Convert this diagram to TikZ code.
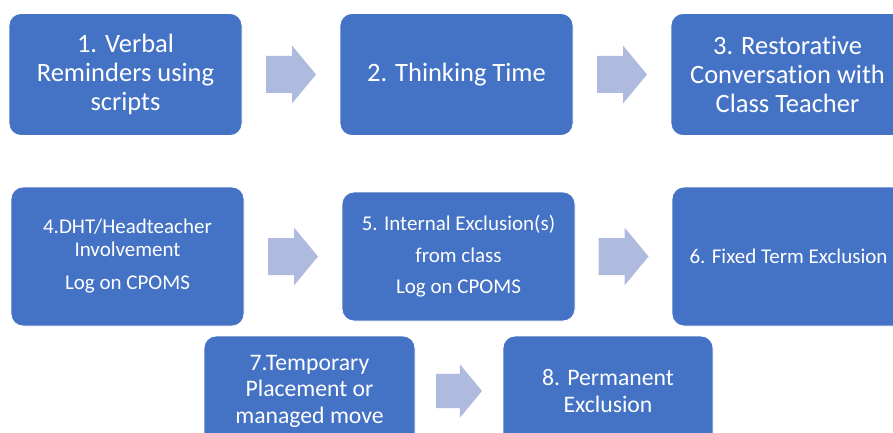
\documentclass[tikz,border=0pt]{standalone}
\usepackage{fontspec}
\setmainfont{Carlito}[RawFeature={-liga;-clig;-calt;-dlig}]
\usetikzlibrary{calc}
\definecolor{boxblue}{HTML}{4472C4}
\definecolor{arrowblue}{RGB}{175,187,222}
\tikzset{stage/.style={fill=boxblue, draw=white, line width=0.8pt, rounded corners=12pt,
  text=white, align=center, inner sep=0pt, minimum width=233pt}}
\tikzset{toprow/.style={stage, minimum height=122pt, font=\fontsize{26.5}{29}\selectfont}}
\tikzset{midrow/.style={stage, font=\fontsize{21}{23}\selectfont}}
\tikzset{lowrow/.style={stage, minimum width=211pt, minimum height=110pt, font=\fontsize{23.7}{26.5}\selectfont}}
\tikzset{blockarrow/.pic={\fill[arrowblue] (-25,-18.5) -- (1,-18.5) -- (1,-29) -- (25,0)
  -- (1,29) -- (1,18.5) -- (-25,18.5) -- cycle;}}

\begin{document}
\begin{tikzpicture}[x=1pt, y=-1pt]
\useasboundingbox (0,0) rectangle (893,433);

\node[toprow] (verbal) at (125.5,74.5) {1. Verbal\\Reminders using\\scripts};
\node[toprow] (thinking) at (456.5,74.5) {2. Thinking Time};
\node[toprow] (restorative) at (787.5,74.5) {3. Restorative\\Conversation with\\Class Teacher};

\node[midrow, minimum height=139pt] (dht) at (127.5,256.5) {4.DHT/Headteacher\\Involvement\\[10pt]Log on CPOMS};
\node[midrow, minimum height=129pt] (internal) at (458.5,256.5) {5. Internal Exclusion(s)\\[9pt]from class\\[8pt]Log on CPOMS};
\node[midrow, minimum height=139pt] (fixed) at (788.5,256.5) {6. Fixed Term Exclusion};

\node[lowrow] (temporary) at (309.5,391) {7.Temporary\\Placement or\\managed move};
\node[lowrow, minimum width=210pt] (permanent) at (608,391) {8. Permanent\\Exclusion};

\pic at ($(verbal.east)!0.5!(thinking.west)$) {blockarrow};
\pic at ($(thinking.east)!0.5!(restorative.west)$) {blockarrow};
\pic at ($(dht.east)!0.5!(internal.west)$) {blockarrow};
\pic at ($(internal.east)!0.5!(fixed.west)$) {blockarrow};
\pic[scale=0.92] at ($(temporary.east)!0.5!(permanent.west)$) {blockarrow};
\end{tikzpicture}
\end{document}
